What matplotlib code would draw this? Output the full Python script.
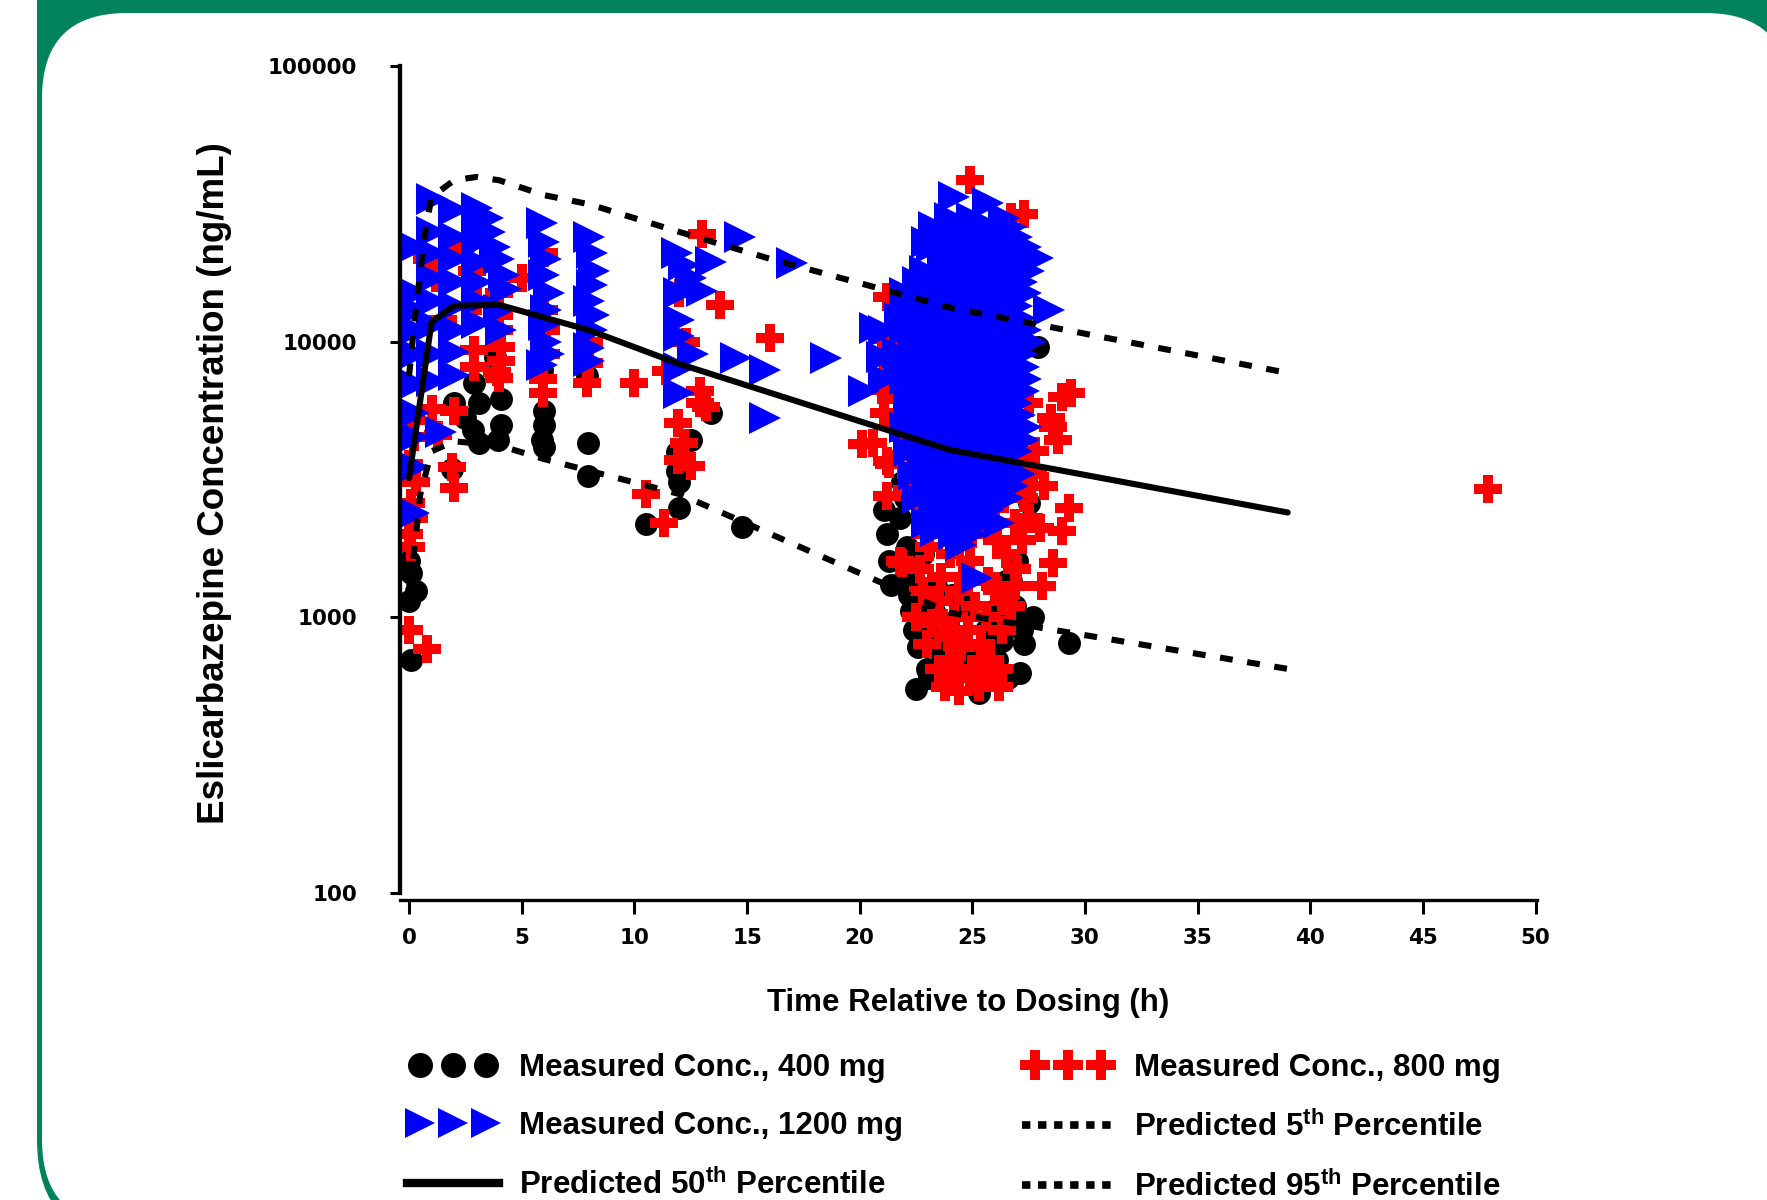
import matplotlib
matplotlib.use('Agg')
import matplotlib.pyplot as plt
from matplotlib.patches import FancyBboxPatch
from matplotlib.lines import Line2D
from matplotlib.legend_handler import HandlerLine2D

plt.rcParams['font.family'] = 'Liberation Sans'
plt.rcParams['font.weight'] = 'bold'
plt.rcParams['mathtext.fontset'] = 'custom'
plt.rcParams['mathtext.bf'] = 'Liberation Sans:bold'
plt.rcParams['mathtext.rm'] = 'Liberation Sans:bold'

# ---- predicted percentiles (time h, conc ng/mL)
t_p50 = [0, 1, 2, 4, 8, 12, 24, 39]
c_p50 = [3200, 11800, 13500, 13600, 11000, 8300, 4050, 2400]

t_p05 = [0, 0.25, 0.5, 1, 2, 4, 6, 8, 12, 24, 39]
c_p05 = [1300, 1800, 2800, 4000, 4350, 4200, 3750, 3400, 2800, 1040, 650]

t_p95 = [0, 0.25, 0.5, 0.75, 1, 2, 3, 4, 6, 8, 12, 16, 24, 39]
c_p95 = [7500, 12000, 18000, 26000, 33500, 38500, 39600, 38500, 34000, 31500,
         25000, 20000, 13300, 7700]

# ---- measured, 400 mg
t_400 = [0.0, 0.1, 0.3, 0.0, 0.1,
         1.9, 2.0, 2.5, 2.9, 3.1, 2.85, 3.1, 3.8, 4.1, 4.1, 3.95,
         5.9, 6.0, 6.0, 5.9, 6.0,
         7.95, 7.95, 7.9,
         10.5, 11.9, 11.9, 12.0, 12.5, 13.4, 14.8, 12.0,
         21.0, 21.1, 21.2, 21.3, 21.4, 21.9, 22.0, 22.2, 22.3, 22.4, 22.5, 22.6,
         22.8, 22.9, 23.0, 23.1, 23.2, 23.4, 23.5, 23.7, 23.9, 24.1, 24.3, 24.5,
         24.8, 25.0, 25.2, 25.3, 25.5, 25.6, 25.9, 26.1, 26.3, 26.5, 26.6, 26.8,
         27.0, 27.1, 27.3, 27.4, 27.5, 27.7, 27.9, 29.3, 26.7, 22.0,
         21.8, 22.1, 22.3, 22.5, 22.7, 23.3, 26.9, 27.2, 26.2, 25.8]
c_400 = [1600, 1450, 1250, 1150, 700,
         3450, 6000, 5300, 7100, 6000, 4800, 4300, 8800, 6200, 5000, 4400,
         7900, 5600, 5000, 4400, 4150,
         4300, 3250, 7500,
         2180, 3970, 3400, 3100, 4400, 5500, 2130, 2500,
         7400, 2450, 2000, 1600, 1310, 3100, 1400, 1200, 1050, 900, 550, 780,
         1700, 1000, 650, 600, 850, 1300, 760, 620, 950, 1200, 700, 850,
         1100, 640, 750, 530, 610, 900, 1050, 700, 820, 1350, 600, 950,
         1600, 630, 800, 3200, 2600, 1000, 9600, 810, 1360, 2700,
         2300, 1800, 1550, 1150, 1250, 1050, 1100, 900, 1000, 780]

# ---- measured, 800 mg
t_800 = [0.1, 0.2, 0.0, 0.3, 0.1, 0.2, 0.0, 0.1, 0.0, 0.8,
         1.0, 1.3, 2.0, 1.9, 2.0,
         0.8, 1.2, 1.5, 2.3, 2.8, 3.0,
         2.9, 2.9, 4.1, 4.1, 4.0, 3.9, 5.0, 4.0, 4.0, 4.0,
         5.95, 5.95, 6.0, 6.0, 6.1, 6.1,
         7.9, 8.0, 8.0,
         10.0, 10.5, 11.3, 11.95, 12.2, 11.95, 12.5, 12.9, 13.2, 12.9, 11.4,
         13.0, 13.8, 16.0, 12.3, 12.0,
         20.1, 21.2, 21.2, 21.0, 21.2, 21.2, 21.8,
         24.9, 26.7, 27.3, 26.0, 29.0, 29.4, 28.5, 28.8, 28.6, 29.3, 29.0, 28.6,
         28.1, 28.0, 21.9, 21.3, 20.6, 21.1,
         22.5, 22.8, 23.0, 23.2, 23.5, 23.5, 23.8, 23.9, 24.0, 24.2, 24.3, 24.5,
         24.6, 24.8, 25.0, 25.1, 25.3, 25.4, 25.6, 25.8, 26.0, 26.2, 26.3, 26.5,
         26.7, 26.9, 27.0, 27.2, 27.5, 27.6, 26.0, 25.0, 24.0, 23.3, 22.5, 22.3,
         22.0, 21.8, 21.6, 22.6, 23.0, 23.5, 24.5, 25.5, 26.0, 26.8, 27.5, 27.8,
         27.2, 22.2, 25.0, 23.6, 26.1, 26.3,
         22.7, 23.1, 23.6, 24.1, 24.4, 24.9, 25.3, 25.7, 26.1, 26.4, 26.9, 27.3,
         23.9, 24.7, 26.6, 27.0, 22.9, 23.4, 25.9, 24.4, 26.2, 23.7, 21.5, 21.7,
         22.1, 27.7, 28.2, 21.4,
         47.9]
c_800 = [5200, 4500, 3600, 3100, 2600, 2300, 2000, 1800, 900, 770,
         5700, 4600, 5600, 3500, 2950,
         20000, 17000, 12000, 22000, 18000, 14000,
         9300, 8100, 9600, 8500, 7400, 7750, 17000, 15000, 12500, 11000,
         6500, 7300, 21000, 13000, 11000, 9000,
         7100, 8400, 10000,
         7100, 2800, 2200, 5050, 4300, 3730, 3540, 6000, 5800, 6600, 7800,
         24500, 13600, 10300, 10000, 15000,
         4240, 14500, 10200, 6700, 3700, 2750, 1600,
         38500, 28300, 29000, 20800, 6300, 6500, 5300, 4400, 4900, 2500, 2050, 1580,
         1300, 2100, 1580, 3600, 4300, 5500,
         1000, 1250, 800, 950, 650, 1150, 560, 850, 700, 1000, 600, 780,
         1400, 900, 650, 1100, 560, 800, 1000, 700, 1300, 560, 900, 1700,
         1100, 2200, 1500, 1900, 2300, 3000, 2500, 2000, 1700, 2200, 2600, 3300,
         4500, 7000, 10000, 12000, 17000, 22000, 26000, 24000, 15000, 9000, 6000, 4000,
         3500, 6000, 5000, 26500, 20000, 16800,
         1500, 1800, 1400, 2100, 1250, 1600, 2400, 1350, 1900, 1150, 1300, 2700,
         3000, 2700, 2900, 3800, 2000, 2700, 600, 540, 650, 950, 8200, 6200,
         2900, 3300, 3000, 9800,
         2930]

# ---- measured, 1200 mg
t_1200 = [0.2, 0.2, 0.2, 0.2, 0.2, 0.2, 0.2, 0.2, 0.2, 0.2,
          1.0, 1.0, 1.0, 1.0, 1.0, 1.0, 1.0, 1.0, 1.4,
          2.0, 2.0, 2.0, 2.0, 2.0, 2.0, 2.0, 2.0,
          3.0, 3.0, 3.0, 3.0, 3.0, 3.0, 3.0,
          3.5, 3.6, 3.8, 4.0, 4.2, 4.3, 4.0, 4.1,
          5.9, 6.0, 6.1, 6.0, 6.2, 6.1, 6.0, 6.1, 6.2, 5.9,
          8.0, 8.1, 8.2, 8.1, 8.0, 8.2, 8.1, 8.0, 8.0,
          11.9, 12.2, 13.4, 12.5, 12.0, 13.0, 12.0, 12.0, 12.6, 12.0, 12.0,
          14.7, 17.0, 14.5, 15.8, 15.8, 18.5, 20.7, 21.0, 20.2,
          24.2, 25.7, 23.0, 27.9, 28.4, 21.1, 21.7, 21.1, 24.5, 25.2, 23.4,
          # 24 h cluster
          24.0, 25.0, 26.4,
          23.6, 24.6, 25.4, 26.2, 27.0,
          23.8, 24.6, 25.4, 26.2, 27.0,
          22.6, 23.4, 24.2, 25.0, 25.8, 26.6, 27.2,
          22.2, 23.0, 23.8, 24.6, 25.4, 26.2, 27.0,
          22.0, 22.8, 23.6, 24.4, 25.2, 26.0, 26.8, 27.4,
          22.4, 23.2, 24.0, 24.8, 25.6, 26.4, 27.2,
          22.0, 22.8, 23.6, 24.4, 25.2, 26.0, 26.8, 27.4,
          22.2, 23.0, 23.8, 24.6, 25.4, 26.2, 27.0,
          22.0, 22.8, 23.6, 24.4, 25.2, 26.0, 26.8, 27.4,
          22.2, 23.0, 23.8, 24.6, 25.4, 26.2, 27.0,
          22.4, 23.2, 24.0, 24.8, 25.6, 26.4, 27.1,
          22.6, 23.4, 24.2, 25.0, 25.8, 26.6,
          23.0, 23.8, 24.6, 25.4, 26.2,
          23.3, 24.4, 25.8, 26.7,
          23.2, 24.1, 25.0, 25.9, 26.6, 27.4,
          22.9, 23.7, 24.4, 25.3, 26.0, 26.9, 27.5,
          22.0, 22.9, 23.5, 24.3, 25.1, 25.9, 26.5, 27.4,
          21.8, 22.5, 23.3, 24.0, 24.9, 25.7, 26.4, 27.1,
          22.5, 23.1, 24.0, 24.9, 25.5, 26.3, 27.0, 27.6,
          21.8, 22.7, 23.4, 24.2, 25.0, 25.8, 26.5, 27.3,
          22.5, 23.3, 24.0, 24.9, 25.6, 26.5, 27.3,
          22.3, 23.2, 24.1, 24.8, 25.7, 26.4, 27.1,
          22.6, 23.4, 24.2, 25.0, 25.8, 26.6, 27.3,
          22.8, 23.6, 24.4, 25.2, 25.9, 26.7,
          23.0, 23.8, 24.5, 25.3, 26.0, 26.8,
          23.3, 24.0, 24.9, 25.7,
          24.2, 25.0]
c_1200 = [22000, 15000, 13000, 11000, 9000, 7000, 5500, 4500, 3500, 2400,
          33000, 25000, 21000, 17000, 14000, 11500, 9000, 7200, 4700,
          30000, 24000, 20000, 16500, 13500, 11000, 9200, 7600,
          30500, 27000, 23000, 19500, 16500, 14000, 11700,
          28000, 25000, 22000, 20000, 17500, 15500, 13000, 11000,
          27000, 23000, 20000, 17500, 15000, 13000, 11500, 10000, 9000, 8200,
          24000, 21000, 18000, 16000, 14000, 12500, 11000, 9500, 8500,
          21000, 19000, 19500, 17000, 15000, 15300, 12000, 10500, 9000, 8000, 6500,
          24000, 19300, 8700, 7900, 5300, 8700, 11200, 8800, 6600,
          33600, 31900, 23000, 20100, 13050, 10900, 9100, 7300, 1830, 1390, 2050,
          28000, 28000, 28000,
          24000, 24000, 24000, 24000, 24000,
          20000, 20000, 20000, 20000, 20000,
          16500, 16500, 16500, 16500, 16500, 16500, 16500,
          13500, 13500, 13500, 13500, 13500, 13500, 13500,
          11000, 11000, 11000, 11000, 11000, 11000, 11000, 11000,
          9000, 9000, 9000, 9000, 9000, 9000, 9000,
          7300, 7300, 7300, 7300, 7300, 7300, 7300, 7300,
          6000, 6000, 6000, 6000, 6000, 6000, 6000,
          4900, 4900, 4900, 4900, 4900, 4900, 4900, 4900,
          4000, 4000, 4000, 4000, 4000, 4000, 4000,
          3300, 3300, 3300, 3300, 3300, 3300, 3300,
          2700, 2700, 2700, 2700, 2700, 2700,
          2200, 2200, 2200, 2200, 2200,
          26000, 26000, 26000, 26000,
          22000, 22000, 22000, 22000, 22000, 22000,
          18000, 18000, 18000, 18000, 18000, 18000, 18000,
          15000, 15000, 15000, 15000, 15000, 15000, 15000, 15000,
          12200, 12200, 12200, 12200, 12200, 12200, 12200, 12200,
          10000, 10000, 10000, 10000, 10000, 10000, 10000, 10000,
          8100, 8100, 8100, 8100, 8100, 8100, 8100, 8100,
          6600, 6600, 6600, 6600, 6600, 6600, 6600,
          5400, 5400, 5400, 5400, 5400, 5400, 5400,
          4400, 4400, 4400, 4400, 4400, 4400, 4400,
          3600, 3600, 3600, 3600, 3600, 3600,
          3000, 3000, 3000, 3000, 3000, 3000,
          2450, 2450, 2450, 2450,
          2000, 2000]

green = '#00825A'

fig = plt.figure(figsize=(17.67, 12), dpi=100)

# slide frame behind the chart
bg = fig.add_axes([0, 0, 1, 1], zorder=-10)
bg.set_xlim(0, 1767)
bg.set_ylim(1200, 0)
bg.axis('off')
bg.add_patch(FancyBboxPatch((37, -300), 2000, 1540,
                            boxstyle='round,pad=0,rounding_size=100',
                            fc=green, ec='none'))
bg.add_patch(FancyBboxPatch((42, 13), 1748, 1212,
                            boxstyle='round,pad=0,rounding_size=85',
                            fc='white', ec='none'))

ax = fig.add_axes([0.2264, 0.25, 0.6435, 0.695])
ax.set_facecolor('none')

ax.plot(t_400, c_400, ls='none', marker='o', ms=16.5, mew=0, color='black')
ax.plot(t_800, c_800, ls='none', marker='P', ms=20.5, mew=0, color='red')
ax.plot(t_1200, c_1200, ls='none', marker='>', ms=23, mew=0, color='blue')

dash = (0, (2.1, 2.4))
ax.plot(t_p05, c_p05, color='black', lw=4.4, ls=dash)
ax.plot(t_p95, c_p95, color='black', lw=4.4, ls=dash)
ax.plot(t_p50, c_p50, color='black', lw=4.4, solid_capstyle='round')

ax.set_yscale('log')
ax.set_ylim(94.3, 100000)
ax.set_xlim(-0.4, 50.07)
ax.set_yticks([100, 1000, 10000, 100000])
ax.set_yticklabels(['100', '1000', '10000', '100000'])
ax.yaxis.set_minor_locator(matplotlib.ticker.NullLocator())
ax.set_xticks(range(0, 51, 5))

for s in ['top', 'right']:
    ax.spines[s].set_visible(False)
ax.spines['left'].set_linewidth(3.1)
ax.spines['left'].set_bounds(100, 100000)
ax.spines['bottom'].set_linewidth(2.4)

ax.tick_params(axis='y', length=7, width=2.2, pad=24)
ax.tick_params(axis='x', length=10, width=2.2, pad=10)
for lab in ax.get_xticklabels() + ax.get_yticklabels():
    lab.set_fontfamily('DejaVu Sans')
    lab.set_fontweight('bold')
    lab.set_fontsize(15.5)

ax.set_xlabel('Time Relative to Dosing (h)', fontsize=22.5, fontweight='bold',
              labelpad=29)
ax.set_ylabel('Eslicarbazepine Concentration (ng/mL)', fontsize=26.5,
              fontweight='bold', labelpad=26)

h400 = Line2D([], [], ls='none', marker='o', color='black', ms=18, mew=0)
h800 = Line2D([], [], ls='none', marker='P', color='red', ms=22, mew=0)
h1200 = Line2D([], [], ls='none', marker='>', color='blue', ms=22, mew=0)
h50 = Line2D([], [], color='black', lw=6)
h05 = Line2D([], [], color='black', lw=5.5, ls=(0, (1.1, 1.0)))
h95 = Line2D([], [], color='black', lw=5.5, ls=(0, (1.1, 1.0)))

mark_handler = HandlerLine2D(marker_pad=0.42)
line_handler = HandlerLine2D(marker_pad=0)
hmap = {h400: mark_handler, h800: mark_handler, h1200: mark_handler,
        h50: line_handler, h05: line_handler, h95: line_handler}

handles = [h400, h1200, h50, h800, h05, h95]
labels = ['Measured Conc., 400 mg',
          'Measured Conc., 1200 mg',
          r'Predicted 50$^{\mathbf{th}}$ Percentile',
          'Measured Conc., 800 mg',
          r'Predicted 5$^{\mathbf{th}}$ Percentile',
          r'Predicted 95$^{\mathbf{th}}$ Percentile']
fig.legend(handles, labels, ncol=2, numpoints=3, frameon=False,
           handler_map=hmap,
           prop={'size': 22.5, 'weight': 'bold'},
           handlelength=2.95, handletextpad=0.65, columnspacing=3.8,
           labelspacing=0.9, borderpad=0,
           loc='center', bbox_to_anchor=(954 / 1767, 1 - 1128 / 1200))

fig.savefig('out.png', dpi=100)
